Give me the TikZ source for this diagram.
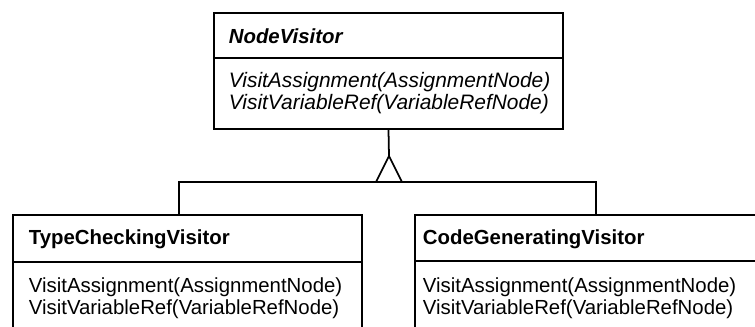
\documentclass[tikz,border=0pt]{standalone}
\usepackage{fontspec}
\setsansfont{Liberation Sans}
\usetikzlibrary{calc,fit}

\tikzset{
  classbox/.style={draw,line width=1pt,inner sep=0pt},
  classname/.style={anchor=west,inner sep=0pt,font=\sffamily\bfseries\fontsize{11.6}{12}\selectfont},
  methods/.style={anchor=west,inner sep=0pt,align=left,font=\sffamily\fontsize{11.6}{12.6}\selectfont}
}

\begin{document}
\begin{tikzpicture}[x=0.02cm,y=-0.02cm,line width=1pt]
        \useasboundingbox (0,0) rectangle (755,327);
        \clip (0,0) rectangle (755,327);
        % abstract visitor
        \node[classbox,fit={(214,13) (563,129)}] (nodevisitor) {};
        \draw (nodevisitor.west |- 0,58) -- (nodevisitor.east |- 0,58);
        \node[classname] (nodevisitorname) at (228,36) {\itshape NodeVisitor};
        \node[methods,font=\sffamily\itshape\fontsize{11.9}{12.4}\selectfont] (nodevisitorops) at (228,93) {VisitAssignment(AssignmentNode)\\VisitVariableRef(VariableRefNode)};
        % concrete visitors
        \node[classbox,fit={(13,215) (362,345)}] (typecheck) {};
        \draw (typecheck.west |- 0,262) -- (typecheck.east |- 0,262);
        \node[classname] (typecheckname) at (28,239) {TypeCheckingVisitor};
        \node[methods] (typecheckops) at (28,298) {VisitAssignment(AssignmentNode)\\VisitVariableRef(VariableRefNode)};
        \node[classbox,fit={(415,215) (770,345)}] (codegen) {};
        \draw (codegen.west |- 0,261) -- (codegen.east |- 0,261);
        \node[classname] (codegenname) at (422,239) {CodeGeneratingVisitor};
        \node[methods] (codegenops) at (422,298) {VisitAssignment(AssignmentNode)\\VisitVariableRef(VariableRefNode)};
        % inheritance
        \coordinate (apex) at (389,156);
        \coordinate (base) at (389,182);
        \draw (nodevisitor.south) -- (apex);
        \draw (apex) -- ++(-13,26) -- ++(26,0) -- cycle;
        \draw ($(typecheck.north west)+(167,0)$) |- (base) -| ($(codegen.north west)+(182,0)$);
    \end{tikzpicture}
\end{document}
